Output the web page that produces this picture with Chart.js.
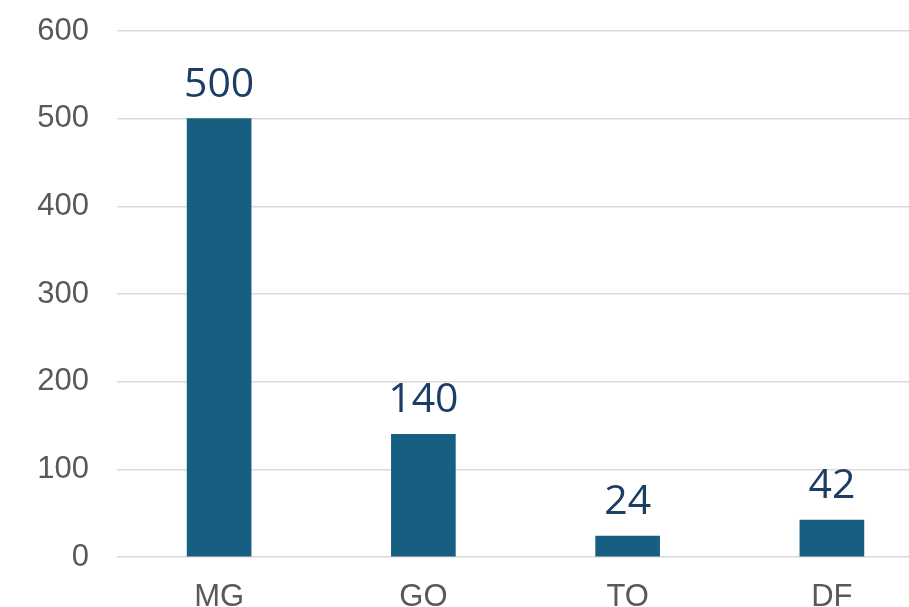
<!DOCTYPE html>
<html>
<head>
<meta charset="utf-8">
<script src="https://cdn.jsdelivr.net/npm/chart.js@4"></script>
<style>
    html, body { margin: 0; padding: 0; background: #fff; overflow: hidden; }
    #wrap { width: 934px; height: 607px; }
</style>
</head>
<body>
<div id="wrap"><canvas id="canvas"></canvas></div>
<script>
const CATEGORIES = ["MG", "GO", "TO", "DF"];
const VALUES = [500, 140, 24, 42];
const Y_MAX = 600;
const Y_STEP = 100;

// draw the value above each bar
const valueLabels = {
    id: 'valueLabels',
    afterDatasetsDraw(chart) {
        const ctx = chart.ctx;
        const meta = chart.getDatasetMeta(0);
        ctx.save();
        ctx.fillStyle = '#1c3d64';
        ctx.font = '41px "Open Sans"';
        ctx.textAlign = 'center';
        ctx.textBaseline = 'alphabetic';
        meta.data.forEach(function (bar, i) {
            ctx.fillText(String(VALUES[i]), bar.x, bar.y - 22);
        });
        ctx.restore();
    }
};

var ctx = document.getElementById('canvas').getContext('2d');
var barChart = new Chart(ctx, {
    type: 'bar',
    data: {
        labels: CATEGORIES,
        datasets: [{
            data: VALUES,
            backgroundColor: '#175f80',
            barThickness: 64
        }]
    },
    options: {
        responsive: true,
        maintainAspectRatio: false,
        animation: false,
        layout: { padding: { top: 31, right: 0, bottom: 0, left: 0 } },
        plugins: {
            legend: { display: false },
            tooltip: { enabled: false }
        },
        scales: {
            x: {
                grid: { display: false, drawTicks: false },
                border: { display: false },
                ticks: {
                    color: '#595959',
                    font: { family: '"Liberation Sans", Arial', size: 31 },
                    padding: 22
                },
                afterFit: function (scale) { scale.height = 50; }
            },
            y: {
                min: 0,
                max: Y_MAX,
                grid: { color: '#d9d9d9', lineWidth: 1.5, drawTicks: false },
                border: { display: false },
                ticks: {
                    stepSize: Y_STEP,
                    color: '#595959',
                    font: { family: '"Liberation Sans", Arial', size: 31 },
                    padding: 28
                },
                afterFit: function (scale) {
                    scale.width = 117;
                    scale.paddingTop = 0;
                    scale.paddingBottom = 0;
                }
            }
        }
    },
    plugins: [valueLabels]
});
</script>
</body>
</html>
